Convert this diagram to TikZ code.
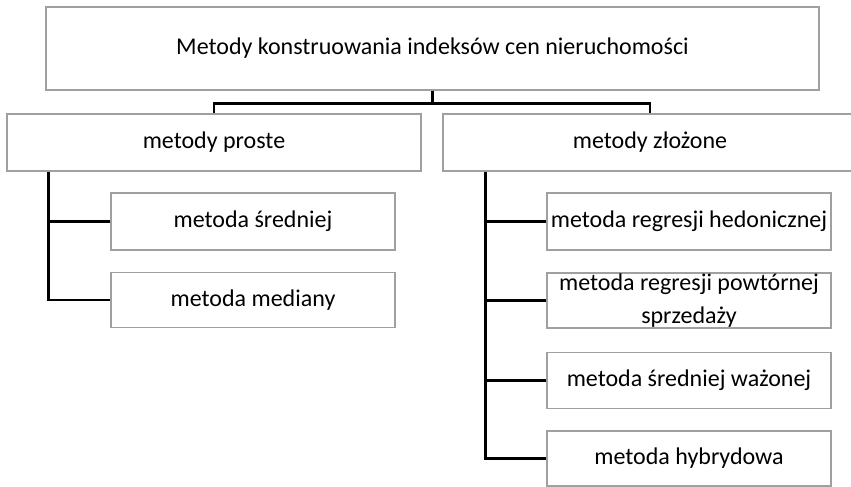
\documentclass[tikz,border=0pt]{standalone}
\usepackage{fontspec}
\setmainfont{Carlito}
\definecolor{boxgray}{RGB}{160,160,160}
\begin{document}
\begin{tikzpicture}[x=1pt,y=-1pt,
  box/.style={draw=boxgray, line width=1.4pt, fill=white, inner sep=0pt, align=center, font=\fontsize{24}{33}\selectfont},
  conn/.style={line width=2.6pt, black}]
\useasboundingbox (0,0) rectangle (851,487);
\clip (0,0) rectangle (851,487);
\node[box, minimum width=773pt, minimum height=83pt] (top) at (432.5,48.5) {Metody konstruowania indeksów cen nieruchomości};
\node[box, minimum width=414pt, minimum height=57pt] (left) at (214,142.5) {metody proste};
\node[box, minimum width=414pt, minimum height=57pt] (right) at (650,142.5) {metody złożone};
\node[box, minimum width=284pt, minimum height=57pt] (ls1) at (253,221.5) {metoda średniej};
\node[box, minimum width=284pt, minimum height=55pt] (ls2) at (253,300) {metoda mediany};
\node[box, minimum width=284pt, minimum height=57pt] (rs1) at (689,221.5) {metoda regresji hedonicznej};
\node[box, minimum width=284pt, minimum height=55pt] (rs2) at (689,300.5) {metoda regresji powtórnej\\sprzedaży};
\node[box, minimum width=284pt, minimum height=56pt] (rs3) at (689,380.5) {metoda średniej ważonej};
\node[box, minimum width=284pt, minimum height=55pt] (rs4) at (689,458.5) {metoda hybrydowa};
\coordinate (j) at ([yshift=-13pt]top.south);
\draw[conn] (top.south) -- (j);
\draw[conn] (left.north) |- (j) -| (right.north);
\coordinate (lt) at ([xshift=42pt]left.south west);
\coordinate (rt) at ([xshift=43pt]right.south west);
\draw[conn] (lt) |- (ls2.west);
\draw[conn] (ls1.west) -- (ls1.west -| lt);
\draw[conn] (rt) |- (rs4.west);
\draw[conn] (rs1.west) -- (rs1.west -| rt);
\draw[conn] (rs2.west) -- (rs2.west -| rt);
\draw[conn] (rs3.west) -- (rs3.west -| rt);
\end{tikzpicture}
\end{document}
